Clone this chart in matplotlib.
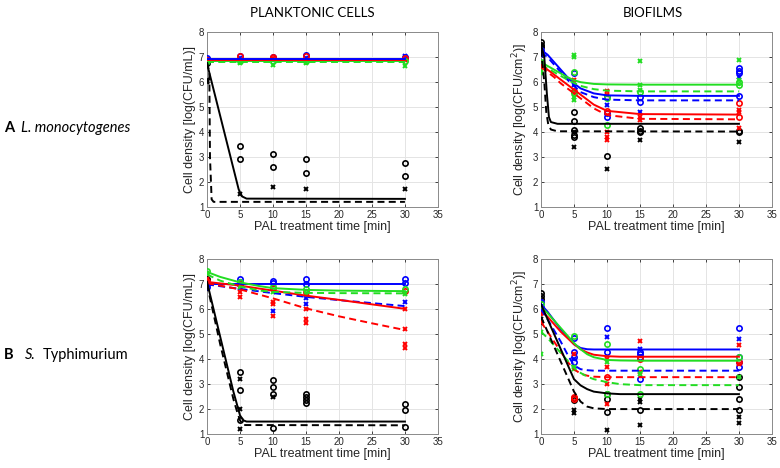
import numpy as np
import matplotlib
matplotlib.use("Agg")
import matplotlib.pyplot as plt

# ---------------- colours
K, R, B, G = "black", "#ff0000", "#0000ff", "#22dd22"

# ---------------- A planktonic: fitted curves (t, y) per colour / line style
A_pl_fit_t_flat = [0, 30]
A_pl_black_solid_t = [0, 4.8, 5.3, 6, 30]
A_pl_black_solid_y = [6.75, 1.7, 1.42, 1.33, 1.32]
A_pl_black_dash_t = [0, 0.35, 0.45, 0.7, 1.0, 30]
A_pl_black_dash_y = [6.8, 6.4, 3.0, 1.3, 1.2, 1.2]
A_pl_flat = {"blue_solid": 6.93, "blue_dash": 6.9, "red_solid": 6.9,
             "red_dash": 6.88, "green_solid": 6.83, "green_dash": 6.8}

A_pl_pts = {
    "black_o": ([0, 0, 5, 5, 10, 10, 15, 15, 30, 30],
                [6.85, 6.75, 3.45, 2.9, 3.1, 2.6, 2.9, 2.35, 2.75, 2.25]),
    "black_x": ([0, 0, 5, 10, 15, 30], [6.1, 6.0, 1.5, 1.8, 1.7, 1.7]),
    "blue_o": ([0, 0, 5, 10, 15, 30, 30], [6.95, 6.85, 7.05, 7.0, 7.1, 7.0, 6.95]),
    "blue_x": ([0, 5, 10, 15, 30], [6.9, 6.95, 6.9, 6.95, 7.05]),
    "red_o": ([0, 5, 10, 15, 30], [6.9, 7.05, 7.0, 7.05, 6.95]),
    "red_x": ([0, 5, 10, 15, 30], [6.85, 6.9, 6.95, 6.9, 6.9]),
    "green_o": ([0, 5, 10, 15, 30], [6.85, 6.85, 6.85, 6.85, 6.85]),
    "green_x": ([0, 5, 10, 15, 30], [6.75, 6.75, 6.7, 6.75, 6.65]),
}

# ---------------- A biofilms
A_bf_t = [0, 1, 2, 3, 4, 5, 6, 8, 10, 15, 30]
A_bf_black_solid_t = [0, 0.5, 0.9, 1.2, 1.5, 2.5, 30]
A_bf_black_solid_y = [7.5, 7.0, 5.5, 4.6, 4.4, 4.33, 4.33]
A_bf_black_dash_t = [0, 0.5, 0.8, 1.1, 1.5, 2.5, 30]
A_bf_black_dash_y = [7.3, 6.0, 4.8, 4.3, 4.1, 4.03, 4.02]
A_bf_fit = {
    "blue_solid": [7.3, 7.1, 6.8, 6.5, 6.2, 5.95, 5.75, 5.55, 5.47, 5.45, 5.45],
    "blue_dash": [7.2, 7.0, 6.7, 6.4, 6.1, 5.85, 5.6, 5.4, 5.3, 5.27, 5.27],
    "green_solid": [6.8, 6.65, 6.5, 6.35, 6.2, 6.08, 6.0, 5.93, 5.91, 5.9, 5.9],
    "green_dash": [6.7, 6.55, 6.4, 6.25, 6.1, 5.97, 5.85, 5.72, 5.66, 5.63, 5.63],
    "red_solid": [6.7, 6.5, 6.3, 6.1, 5.9, 5.7, 5.5, 5.1, 4.85, 4.72, 4.7],
    "red_dash": [6.6, 6.4, 6.2, 5.95, 5.75, 5.55, 5.35, 4.95, 4.68, 4.53, 4.51],
}
A_bf_pts = {
    "black_o": ([0, 0, 0, 5, 5, 5, 5, 5, 10, 15, 15, 15, 30, 30],
                [7.6, 7.5, 7.4, 4.8, 4.45, 4.1, 3.9, 3.8, 3.05, 4.15, 4.05, 4.0, 4.05, 4.0]),
    "black_x": ([0, 5, 5, 10, 15, 30], [7.5, 4.0, 3.4, 2.5, 3.7, 3.6]),
    "blue_o": ([0, 0, 5, 10, 10, 10, 15, 15, 30, 30, 30, 30],
               [7.3, 7.2, 6.35, 5.4, 4.75, 4.6, 5.4, 5.2, 6.55, 6.45, 6.35, 5.45]),
    "blue_x": ([0, 5, 10, 15, 30], [7.1, 5.9, 5.1, 4.8, 6.2]),
    "red_o": ([0, 5, 10, 30, 30], [6.75, 5.65, 4.85, 5.15, 4.6]),
    "red_x": ([0, 5, 5, 10, 10, 10, 10, 10, 15, 15, 30, 30, 30],
              [6.6, 6.1, 5.6, 5.65, 5.5, 4.0, 3.8, 3.7, 4.6, 4.5, 4.9, 4.8, 4.15]),
    "green_o": ([0, 5, 5, 10, 10, 15, 30, 30], [6.8, 6.4, 5.55, 5.35, 4.3, 5.6, 6.0, 5.9]),
    "green_x": ([0, 0, 5, 5, 5, 5, 15, 15, 15, 30, 30],
                [6.5, 6.35, 7.1, 7.0, 5.4, 5.3, 6.85, 5.9, 5.7, 6.9, 6.1]),
}

# ---------------- B planktonic
B_pl_t = [0, 5, 10, 15, 20, 25, 30]
B_pl_green_t = [0, 2, 5, 8, 10, 15, 20, 30]
B_pl_fit = {
    "blue_solid": [7.0, 7.0, 7.0, 7.0, 7.0, 7.0, 7.0],
    "blue_dash": [7.0, 6.82, 6.65, 6.5, 6.37, 6.25, 6.13],
    "red_solid": [7.1, 6.95, 6.75, 6.55, 6.38, 6.2, 6.02],
    "red_dash": [7.05, 6.8, 6.44, 6.04, 5.72, 5.44, 5.17],
}
B_pl_green_solid = [7.5, 7.3, 7.08, 6.93, 6.85, 6.78, 6.75, 6.73]
B_pl_green_dash = [7.4, 7.15, 6.92, 6.75, 6.7, 6.66, 6.65, 6.64]
B_pl_black_solid_t = [0, 1, 2, 3, 4, 5, 5.5, 6, 30]
B_pl_black_solid_y = [7.1, 6.0, 4.9, 3.8, 2.7, 1.75, 1.55, 1.5, 1.5]
B_pl_black_dash_t = [0, 1, 2, 3, 4, 4.5, 5, 5.5, 30]
B_pl_black_dash_y = [7.0, 5.8, 4.6, 3.5, 2.4, 1.95, 1.55, 1.36, 1.35]
B_pl_pts = {
    "black_o": ([0, 0, 5, 5, 5, 10, 10, 10, 10, 15, 15, 15, 15, 30, 30, 30],
                [7.2, 7.05, 3.5, 2.75, 1.55, 3.15, 2.9, 2.6, 1.25, 2.6, 2.5, 2.35, 2.25,
                 2.2, 1.95, 1.3]),
    "black_x": ([0, 5, 5, 5, 10], [7.0, 3.2, 2.0, 1.2, 2.5]),
    "blue_o": ([0, 0, 5, 5, 5, 10, 10, 15, 15, 30, 30],
               [7.0, 6.9, 7.2, 7.1, 7.0, 7.15, 7.05, 7.2, 7.0, 7.2, 7.05]),
    "blue_x": ([0, 5, 10, 15, 15, 30], [6.95, 6.85, 5.95, 6.45, 6.2, 6.3]),
    "red_o": ([0, 5, 10, 15, 30], [7.15, 7.0, 6.85, 6.7, 6.75]),
    "red_x": ([0, 5, 5, 10, 10, 10, 15, 15, 15, 30, 30, 30, 30],
              [7.2, 6.7, 6.5, 6.3, 6.2, 5.75, 6.0, 5.6, 5.45, 6.0, 5.2, 4.6, 4.45]),
    "green_o": ([0, 5, 10, 15, 30], [7.55, 7.1, 6.9, 6.8, 6.8]),
    "green_x": ([0, 5, 10, 15, 30], [7.45, 6.9, 6.7, 6.6, 6.6]),
}

# ---------------- B biofilms
B_bf_t = [0, 1, 2, 3, 4, 5, 6, 7, 8, 10, 12, 15, 30]
B_bf_fit = {
    "blue_solid": [6.2, 5.9, 5.55, 5.2, 4.9, 4.6, 4.45, 4.4, 4.39, 4.39, 4.39, 4.39, 4.39],
    "red_solid": [5.95, 5.7, 5.4, 5.1, 4.85, 4.6, 4.4, 4.27, 4.18, 4.12, 4.1, 4.1, 4.1],
    "green_solid": [6.1, 5.85, 5.55, 5.25, 4.95, 4.65, 4.4, 4.2, 4.08, 3.97, 3.95, 3.94, 3.94],
    "blue_dash": [6.0, 5.6, 5.15, 4.7, 4.2, 3.75, 3.6, 3.56, 3.54, 3.54, 3.54, 3.54, 3.54],
    "red_dash": [5.5, 5.1, 4.7, 4.3, 3.9, 3.6, 3.42, 3.34, 3.3, 3.28, 3.28, 3.28, 3.28],
    "green_dash": [5.1, 4.85, 4.55, 4.25, 3.95, 3.65, 3.45, 3.3, 3.2, 3.08, 3.0, 2.96, 2.96],
    "black_solid": [6.2, 5.6, 5.0, 4.4, 3.8, 3.2, 2.95, 2.8, 2.7, 2.63, 2.6, 2.6, 2.6],
    "black_dash": [5.7, 5.1, 4.5, 3.9, 3.3, 2.7, 2.3, 2.1, 2.03, 2.0, 2.0, 2.0, 2.0],
}
B_bf_pts = {
    "black_o": ([0, 0, 0, 5, 5, 10, 10, 10, 15, 30, 30, 30, 30],
                [6.65, 6.55, 6.4, 2.45, 2.35, 2.6, 2.4, 1.9, 1.95, 3.3, 2.9, 2.4, 1.95]),
    "black_x": ([0, 0, 5, 5, 10, 15, 15, 15, 30, 30],
                [5.6, 5.45, 1.95, 1.85, 1.15, 2.4, 2.3, 1.35, 1.7, 1.45]),
    "blue_o": ([0, 0, 5, 5, 5, 5, 10, 10, 15, 15, 15, 15, 30, 30, 30, 30],
               [6.3, 6.1, 4.85, 4.3, 4.1, 3.9, 5.25, 4.3, 4.3, 4.2, 4.1, 3.2, 5.25, 4.1, 3.9, 3.7]),
    "blue_x": ([0, 5, 10, 15, 30], [6.0, 4.0, 4.9, 4.4, 4.8]),
    "red_o": ([0, 5, 5, 10, 15, 30], [5.9, 2.5, 2.4, 3.3, 4.0, 3.9]),
    "red_x": ([0, 0, 5, 10, 10, 10, 10, 15, 15, 30, 30],
              [5.85, 5.5, 4.2, 4.0, 3.7, 3.0, 2.2, 4.75, 3.5, 4.55, 3.8]),
    "green_o": ([0, 5, 10, 10, 15, 15, 30], [6.2, 4.95, 4.6, 2.6, 3.6, 2.6, 4.1]),
    "green_x": ([0, 0, 5, 5, 10, 15, 30], [5.1, 4.2, 3.7, 3.6, 3.9, 3.4, 3.3]),
}

col = {"black": K, "red": R, "blue": B, "green": G}

plt.rcParams["font.family"] = ["Liberation Sans", "DejaVu Sans"]
fig = plt.figure(figsize=(7.8, 4.68), dpi=100)

W = 0.296
H = 0.373
axA1 = fig.add_axes([0.2654, 0.558, W, H])
axA2 = fig.add_axes([0.6936, 0.558, W, H])
axB1 = fig.add_axes([0.2654, 0.0726, W, H])
axB2 = fig.add_axes([0.6936, 0.0726, W, H])


def style(ax, ylab):
    ax.set_xlim(0, 35)
    ax.set_ylim(1, 8)
    ax.set_xticks(range(0, 36, 5))
    ax.set_yticks(range(1, 9))
    ax.grid(True, color="#e4e4e4", lw=0.7)
    ax.set_axisbelow(True)
    ax.tick_params(direction="in", top=True, right=True, length=2.5, width=0.6,
                   colors="#262626", labelsize=7, pad=2)
    for s in ax.spines.values():
        s.set_color("#8a8a8a")
        s.set_linewidth(0.7)
    ax.set_xlabel("PAL treatment time [min]", fontsize=9, color="#262626", labelpad=1)
    ax.set_ylabel(ylab, fontsize=9, color="#262626", labelpad=2)


def points(ax, pts):
    for key, (t, y) in pts.items():
        c, m = key.split("_")
        if m == "o":
            ax.plot(t, y, "o", mfc="none", mec=col[c], ms=3.8, mew=1.2, zorder=3)
        else:
            ax.plot(t, y, "x", color=col[c], ms=2.6, mew=1.4, zorder=3)


def line(ax, t, y, key):
    c, s = key.split("_")
    if s == "solid":
        ax.plot(t, y, "-", color=col[c], lw=1.4, zorder=4)
    else:
        ax.plot(t, y, "--", color=col[c], lw=1.4, dashes=(3.6, 2.2), zorder=4)


# A planktonic
points(axA1, A_pl_pts)
for key in ["green_dash", "green_solid", "red_dash", "blue_dash", "red_solid", "blue_solid"]:
    line(axA1, A_pl_fit_t_flat, [A_pl_flat[key]] * 2, key)
line(axA1, A_pl_black_solid_t, A_pl_black_solid_y, "black_solid")
line(axA1, A_pl_black_dash_t, A_pl_black_dash_y, "black_dash")
style(axA1, "Cell density [log(CFU/mL)]")

# A biofilms
points(axA2, A_bf_pts)
for key, y in A_bf_fit.items():
    line(axA2, A_bf_t, y, key)
line(axA2, A_bf_black_solid_t, A_bf_black_solid_y, "black_solid")
line(axA2, A_bf_black_dash_t, A_bf_black_dash_y, "black_dash")
style(axA2, "Cell density [log(CFU/cm$^2$)]")

# B planktonic
points(axB1, B_pl_pts)
for key, y in B_pl_fit.items():
    line(axB1, B_pl_t, y, key)
line(axB1, B_pl_green_t, B_pl_green_solid, "green_solid")
line(axB1, B_pl_green_t, B_pl_green_dash, "green_dash")
line(axB1, B_pl_black_solid_t, B_pl_black_solid_y, "black_solid")
line(axB1, B_pl_black_dash_t, B_pl_black_dash_y, "black_dash")
style(axB1, "Cell density [log(CFU/mL)]")

# B biofilms
points(axB2, B_bf_pts)
for key, y in B_bf_fit.items():
    line(axB2, B_bf_t, y, key)
style(axB2, "Cell density [log(CFU/cm$^2$)]")

# headings and row labels
hfont = ["Lato", "DejaVu Sans"]
fig.text(0.401, 0.972, "PLANKTONIC CELLS", ha="center", va="center", fontsize=9.5,
         family=hfont)
fig.text(0.837, 0.972, "BIOFILMS", ha="center", va="center", fontsize=9.5,
         family=hfont)
fig.text(0.005, 0.727, "A", ha="left", va="center", fontsize=10.5, weight="bold",
         family=hfont)
fig.text(0.027, 0.727, "L. monocytogenes", ha="left", va="center", fontsize=10.5,
         style="italic", family=hfont)
fig.text(0.005, 0.241, "B", ha="left", va="center", fontsize=10.5, weight="bold",
         family=hfont)
fig.text(0.032, 0.241, "S.", ha="left", va="center", fontsize=10.5,
         style="italic", family=hfont)
fig.text(0.055, 0.241, "Typhimurium", ha="left", va="center", fontsize=10.5,
         family=hfont)

fig.savefig("out.png", dpi=100)
